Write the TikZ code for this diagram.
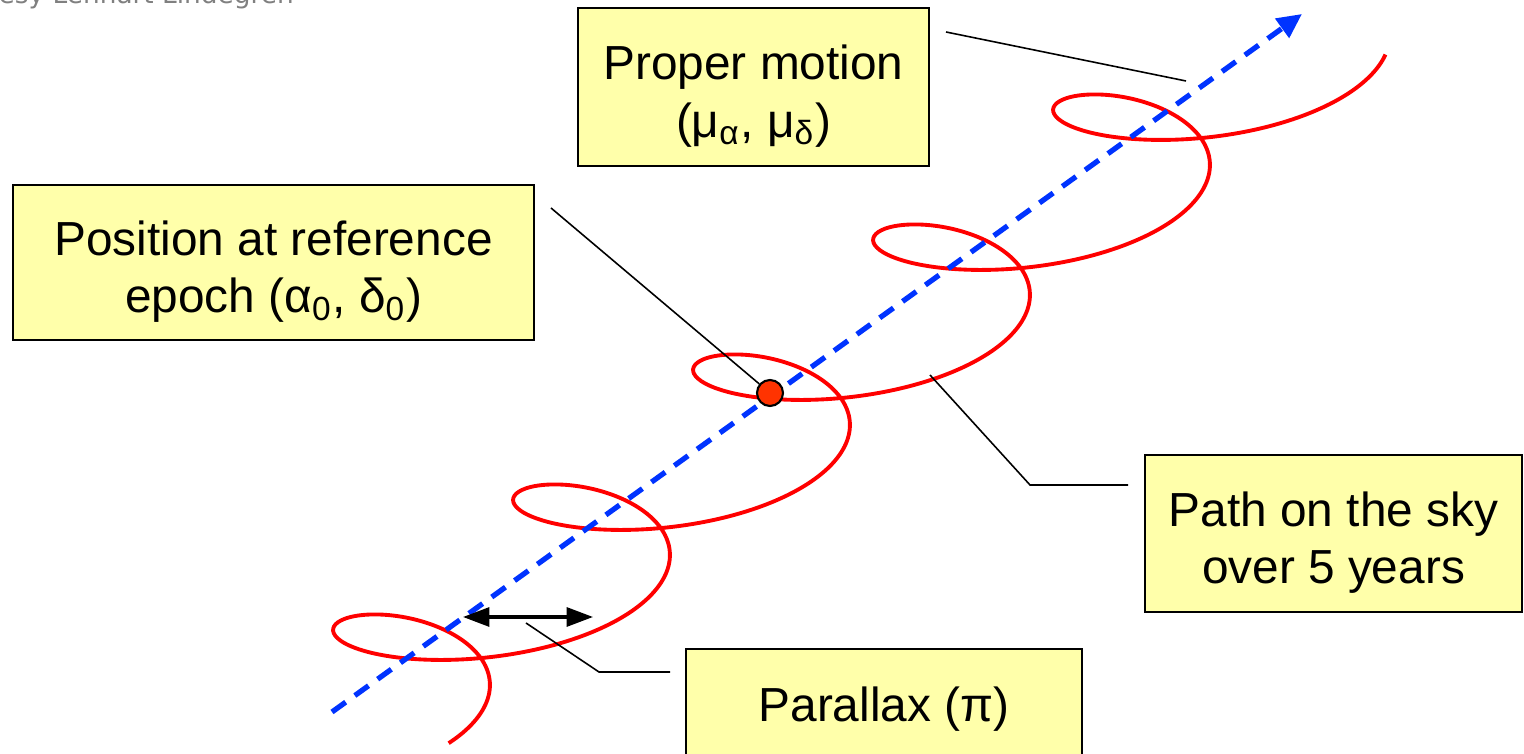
\documentclass[tikz,border=0pt]{standalone}
\usepackage{fontspec}
\setmainfont{Liberation Sans}
\newfontfamily\creditfont{DejaVu Sans}
\usepackage{tikz}
\usetikzlibrary{arrows.meta, positioning}
\definecolor{boxyellow}{RGB}{255,255,170}
\definecolor{motionblue}{RGB}{0,51,255}
\definecolor{orbitred}{RGB}{255,0,0}
\definecolor{dotred}{RGB}{255,51,0}
\newcommand{\lblfont}{\fontsize{13.6pt}{16.3pt}\selectfont}
\newcommand{\lblstrut}{\rule{0pt}{15pt}}

\begin{document}
\begin{tikzpicture}[
  lbl/.style={rectangle, draw=black, line width=0.6pt, fill=boxyellow,
              font=\lblfont, align=center, inner sep=0pt},
  leader/.style={black, line width=0.45pt},
  motion/.style={draw=motionblue, line width=1.5pt,
                 dash pattern=on 4.8pt off 3.2pt,
                 -{Triangle[length=7pt, width=6.5pt]}},
  orbit/.style={orbitred, line width=1.1pt},
  plxarr/.style={line width=0.9pt,
                 {Triangle[length=7.5pt, width=5.4pt]}-{Triangle[length=7.5pt, width=5.4pt]}},
  epochdot/.style={circle, draw=black, line width=0.6pt, fill=dotred,
                   minimum size=0.26cm, inner sep=0pt}
]
  \useasboundingbox (0,0) rectangle (15.24,7.54);
  \clip (0,0) rectangle (15.24,7.54);

  \node[anchor=base west, inner sep=0pt, text=black!50,
        font=\creditfont\fontsize{7.5pt}{9pt}\selectfont] (credit) at (-0.02,7.50)
    {esy Lennart Lindegren};

  % path of the star: proper motion + parallax ellipse
  \draw[orbit] plot[domain=-0.095:5, samples=400, smooth, variable=\t]
    ({3.665+1.8*\t+1.2*cos(360*\t)}, {0.518+1.3*\t+0.51*sin(360*\t)});

  \coordinate (pmstart) at (3.32,0.42);
  \coordinate (pmend)   at (13.02,7.40);
  \draw[motion] (pmstart) -- (pmend);

  \node[epochdot] (epoch) at (7.70,3.61) {};

  \coordinate (plxL) at (4.63,1.37);
  \coordinate (plxR) at (5.93,1.37);
  \draw[plxarr] (plxL) -- (plxR);

  % labels
  \node[lbl, minimum width=3.51cm, minimum height=1.58cm] (pmbox) at (7.535,6.67)
    {\lblstrut Proper motion\\(μ\textsubscript{α}, μ\textsubscript{δ})};
  \node[lbl, minimum width=5.21cm, minimum height=1.55cm] (posbox) at (2.735,4.915)
    {\lblstrut Position at reference\\epoch (α\textsubscript{0}, δ\textsubscript{0})};
  \node[lbl, minimum width=3.77cm, minimum height=1.57cm] (pathbox) at (13.335,2.205)
    {\lblstrut Path on the sky\\over 5 years};
  \node[lbl, minimum width=3.96cm, minimum height=1.2cm] (plxbox) at (8.84,0.45)
    {Parallax (π)};

  % leader lines
  \coordinate (pmA) at (9.46,7.22);
  \coordinate (pmB) at (11.86,6.73);
  \draw[leader] (pmA) -- (pmB);

  \coordinate (posA) at (5.51,5.46);
  \draw[leader] (posA) -- (epoch);

  \coordinate (pathA) at (9.30,3.79);
  \coordinate (pathB) at (10.30,2.69);
  \coordinate (pathC) at (11.28,2.69);
  \draw[leader] (pathA) -- (pathB) -- (pathC);

  \coordinate (plxA) at (5.26,1.31);
  \coordinate (plxB) at (5.99,0.82);
  \coordinate (plxC) at (6.70,0.82);
  \draw[leader] (plxA) -- (plxB) -- (plxC);
\end{tikzpicture}
\end{document}
